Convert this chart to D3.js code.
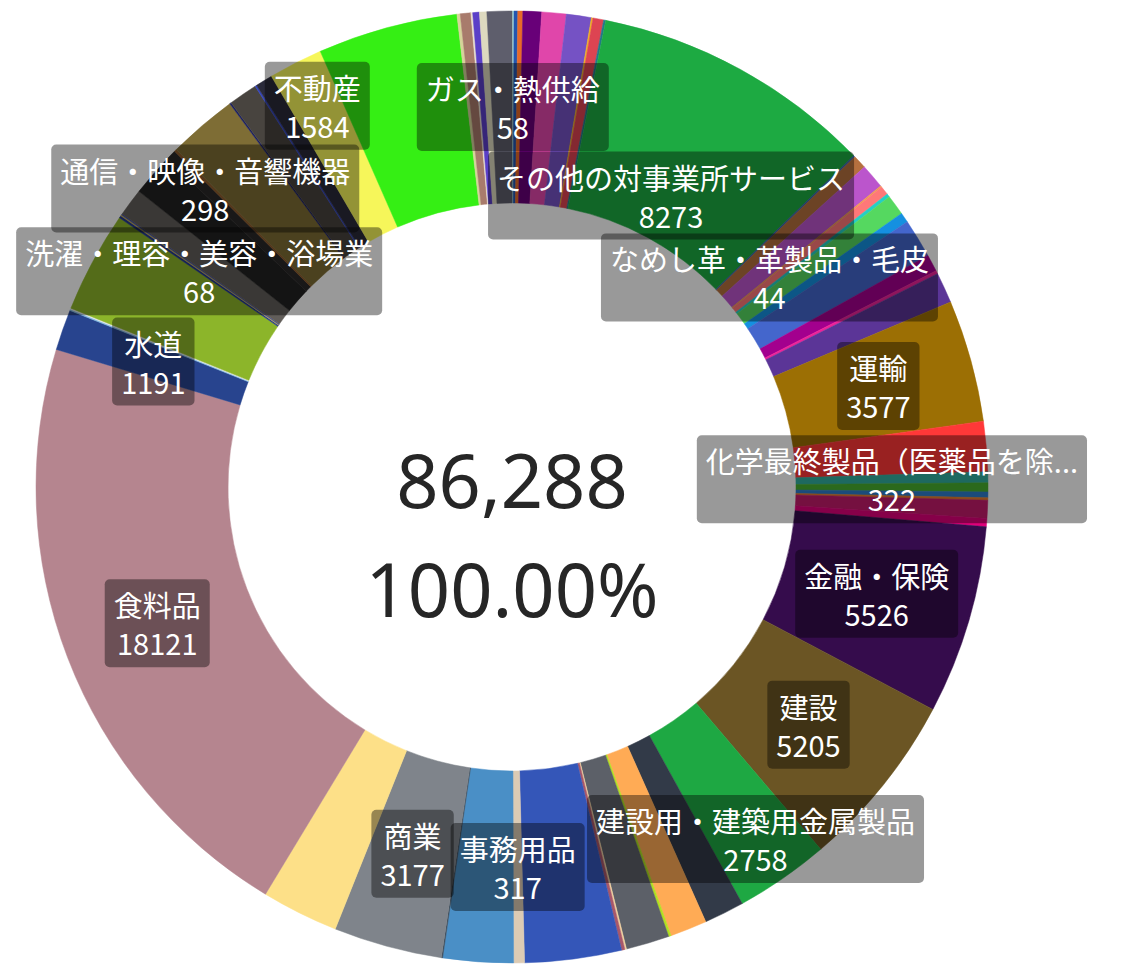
<!DOCTYPE html>
<html>
<head>
<meta charset="utf-8">
<script src="https://cdn.jsdelivr.net/npm/d3@7"></script>
<style>
  body { margin: 0; background: #fff; }
</style>
</head>
<body>
<svg id="chart" width="1123" height="964"></svg>
<script>
// slices, clockwise from 12 o'clock (only the labelled ones have readable names)
var names = [
  "ガス・熱供給", "項目02", "項目03", "項目04", "項目05", "項目06", "項目07", "項目08", "項目09",
  "その他の対事業所サービス", "項目11", "項目12", "項目13", "なめし革・革製品・毛皮", "項目15", "項目16",
  "項目17", "項目18", "項目19", "項目20", "項目21", "項目22", "運輸", "項目24",
  "化学最終製品（医薬品を除く）", "項目26", "項目27", "項目28", "項目29", "項目30",
  "金融・保険", "建設", "建設用・建築用金属製品", "項目34", "項目35", "項目36", "項目37", "項目38",
  "項目39", "項目40", "事務用品", "項目42", "項目43", "商業", "項目45", "食料品", "水道",
  "項目48", "項目49", "項目50", "洗濯・理容・美容・浴場業", "項目52", "項目53", "項目54", "項目55",
  "通信・映像・音響機器", "項目57", "項目58", "項目59", "項目60", "項目61", "項目62", "不動産",
  "項目64", "項目65", "項目66", "項目67", "項目68", "項目69", "項目70"
];
var values = [
  58, 110, 145, 547, 712, 731, 46, 314, 62,
  8273, 48, 400, 720, 44, 260, 95,
  600, 290, 1140, 500, 95, 900, 3577, 1462,
  322, 264, 168, 72, 527, 240,
  5526, 5205, 2758, 1175, 1080, 72, 1270, 48,
  96, 2829, 317, 2057, 36, 3177, 2253, 18121, 1191,
  36, 36, 2967, 68, 36, 29, 815, 1246,
  298, 72, 2037, 48, 839, 48, 503, 1584,
  4099, 96, 309, 53, 194, 215, 727
];
var colors = [
  "#a8d8d4", "#2356b0", "#e86a28", "#680078", "#e046aa", "#7552c4", "#f0b020", "#dd4452", "#22788a",
  "#1daa42", "#3a66b0", "#b5703f", "#bb55cc", "#f09a50", "#ff7878", "#25cfc5",
  "#55d860", "#1590e0", "#4466cc", "#a3008e", "#ee2299", "#5b3597", "#9c6f04", "#ff3838",
  "#33b0a0", "#48b030", "#2d7dcc", "#e67d2d", "#c41c6c", "#e0007a",
  "#350c4c", "#6b5524", "#1ea843", "#323a48", "#ffab55", "#b0e020", "#5c6068", "#f0d0a0",
  "#a8586a", "#3456b8", "#dccbb4", "#4a8fc6", "#3a4a5a", "#7f848b", "#fde088", "#b5858f", "#28448e",
  "#7fb8e0", "#e8e8e8", "#8cb52a", "#253a8c", "#c0a850", "#3344aa", "#625e5a", "#222222",
  "#2a2828", "#8d5a2a", "#7e6d35", "#1e2260", "#48443f", "#3344bb", "#2a2a3a", "#f6f65a",
  "#35ef14", "#d6d49a", "#a87b6c", "#e8e0d0", "#5a3fc8", "#ddd9bf", "#5e5e6c"
];
// slices whose label is shown
var labelled = [
  "ガス・熱供給", "その他の対事業所サービス", "なめし革・革製品・毛皮", "運輸",
  "化学最終製品（医薬品を除く）", "金融・保険", "建設", "建設用・建築用金属製品", "事務用品",
  "商業", "食料品", "水道", "洗濯・理容・美容・浴場業", "通信・映像・音響機器", "不動産"
];

var cx = 512, cy = 487, outerR = 476, innerR = 284;
var fontJa = "'Noto Sans CJK JP', 'Noto Sans', sans-serif";

var svg = d3.select("#chart");
var g = svg.append("g").attr("transform", "translate(" + cx + "," + cy + ")");

var data = names.map(function (n, i) { return {name: n, value: values[i], color: colors[i]}; });
var pie = d3.pie().value(function (d) { return d.value; }).sort(null);
var arcs = pie(data);
var arc = d3.arc().innerRadius(innerR).outerRadius(outerR);

//slices
g.append("g").selectAll("path")
  .data(arcs)
  .enter().append("path")
  .attr("d", arc)
  .attr("fill", function (d) { return d.data.color; })
  .attr("stroke", function (d) { return d.data.color; })
  .attr("stroke-width", 0.5);

//labels: mid ring first, then outer/inner quarter if it overlaps a placed one
var midR = (innerR + outerR) / 2, stepR = (outerR - innerR) / 4;
var tryR = [midR, midR + stepR, midR - stepR];
var padX = 9, boxH = 88, lineGap = 19, maxW = 390, tol = 4;
var placed = [];
var labelG = g.append("g");

function overlaps(a, b) {
  return a.x0 < b.x1 && b.x0 < a.x1 && a.y0 < b.y1 && b.y0 < a.y1;
}

arcs.filter(function (a) { return labelled.indexOf(a.data.name) >= 0; }).forEach(function (a) {
  var lg = labelG.append("g");
  var rect = lg.append("rect").attr("rx", 5).attr("ry", 5).attr("fill", "rgba(0,0,0,0.4)");
  var t1 = lg.append("text").attr("text-anchor", "middle").attr("dominant-baseline", "central")
    .attr("y", -lineGap).attr("fill", "#fff")
    .style("font-family", fontJa).style("font-size", "29px")
    .text(a.data.name);
  // truncate long names
  if (t1.node().getComputedTextLength() > maxW) {
    var s = a.data.name;
    while (s.length > 1) {
      s = s.slice(0, -1);
      t1.text(s + "...");
      if (t1.node().getComputedTextLength() <= maxW) break;
    }
  }
  var t2 = lg.append("text").attr("text-anchor", "middle").attr("dominant-baseline", "central")
    .attr("y", lineGap).attr("fill", "#fff")
    .style("font-family", fontJa).style("font-size", "29px")
    .text(a.data.value);
  var w = Math.max(t1.node().getComputedTextLength(), t2.node().getComputedTextLength()) + 2 * padX;
  rect.attr("x", -w / 2).attr("y", -boxH / 2).attr("width", w).attr("height", boxH);

  var ang = (a.startAngle + a.endAngle) / 2;
  var pos = null;
  for (var k = 0; k < tryR.length; k++) {
    var x = tryR[k] * Math.sin(ang), y = -tryR[k] * Math.cos(ang);
    var box = {x0: x - w / 2 + tol, x1: x + w / 2 - tol, y0: y - boxH / 2 + tol, y1: y + boxH / 2 - tol};
    if (!placed.some(function (b) { return overlaps(b, box); })) { pos = {x: x, y: y, box: box}; break; }
  }
  if (!pos) { lg.remove(); return; }
  placed.push(pos.box);
  lg.attr("transform", "translate(" + pos.x + "," + pos.y + ")");
});

//center text
var total = d3.sum(values);
g.append("text").attr("text-anchor", "middle").attr("dominant-baseline", "central")
  .attr("y", -8).attr("fill", "#262626")
  .style("font-family", "'Noto Sans', sans-serif").style("font-size", "74px")
  .text(d3.format(",")(total));
g.append("text").attr("text-anchor", "middle").attr("dominant-baseline", "central")
  .attr("y", 101).attr("fill", "#262626")
  .style("font-family", "'Noto Sans', sans-serif").style("font-size", "74px")
  .text((total / total * 100).toFixed(2) + "%");
</script>
</body>
</html>
